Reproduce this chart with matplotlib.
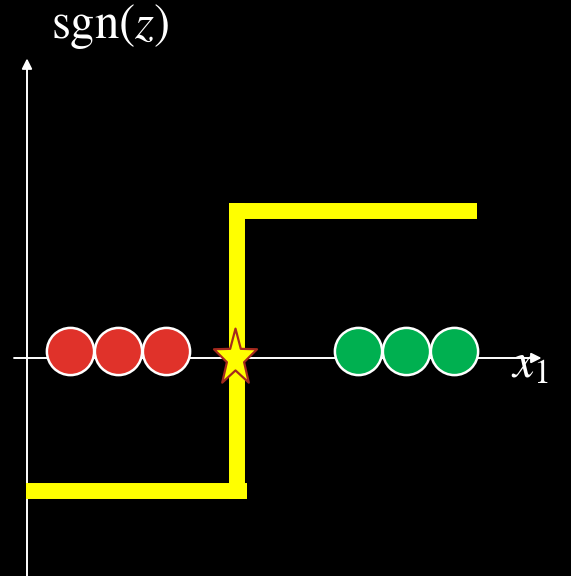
import numpy as np
import matplotlib.pyplot as plt
from matplotlib.path import Path

plt.rcParams['mathtext.fontset'] = 'stix'

# samples on the x1 axis (one unit = one circle width)
red_x = [0.9, 1.9, 2.9]
green_x = [6.9, 7.9, 8.9]
boundary = 4.38
star_x = 4.33
low, high = -1, 1
step_start, step_end = -0.02, 9.375
axis_y = -0.05

fig = plt.figure(figsize=(5.71, 5.76), dpi=100, facecolor='black')
ax = fig.add_axes([0, 0, 1, 1])
ax.set_facecolor('black')
ax.set_xlim(-27 / 48, 544 / 48)
ax.set_ylim(-225 / 140, 351 / 140)
ax.axis('off')

# axes with arrows
arrow = dict(arrowstyle='-|>,head_length=0.6,head_width=0.3', color='white',
             lw=1.4, shrinkA=0, shrinkB=0, mutation_scale=10)
ax.annotate('', xy=(0, 2.09), xytext=(0, -1.61), arrowprops=arrow, zorder=1)
ax.annotate('', xy=(10.72, axis_y), xytext=(-0.27, axis_y), arrowprops=arrow, zorder=1)

# sign function as thick yellow step
half = 8 / 140
step = dict(color='#FFFF00', lw=11.5, solid_capstyle='butt', zorder=2)
ax.plot([step_start, boundary + 0.2], [low, low], **step)
ax.plot([boundary, boundary], [low - half, high + half], **step)
ax.plot([boundary - 0.17, step_end], [high, high], **step)

# data points
ax.plot(red_x, [0] * len(red_x), 'o', ms=34, mfc='#E0322A', mec='white', mew=1.8,
        ls='none', zorder=3)
ax.plot(green_x, [0] * len(green_x), 'o', ms=34, mfc='#00B050', mec='white', mew=1.8,
        ls='none', zorder=3)

# stretched star marking the boundary
ang = np.deg2rad(90 + 36 * np.arange(10))
rad = np.where(np.arange(10) % 2 == 0, 1.0, 0.40)
verts = np.column_stack([rad * np.cos(ang), 1.32 * rad * np.sin(ang)])
verts = np.vstack([verts, verts[:1]])
star = Path(verts, closed=True)
ax.plot([star_x], [axis_y], marker=star, ms=43, mfc='#FFFF00', mec='#A52A1E',
        mew=1.6, ls='none', zorder=4)

fig.text(110 / 571, 1 - 38 / 576, r'$\mathrm{sgn}(z)$', color='white',
         fontsize=35, ha='center', va='baseline')
fig.text(511 / 571, 1 - 377 / 576, r'$x_1$', color='white',
         fontsize=35, ha='left', va='baseline')

fig.savefig('out.png', dpi=100, facecolor='black')
